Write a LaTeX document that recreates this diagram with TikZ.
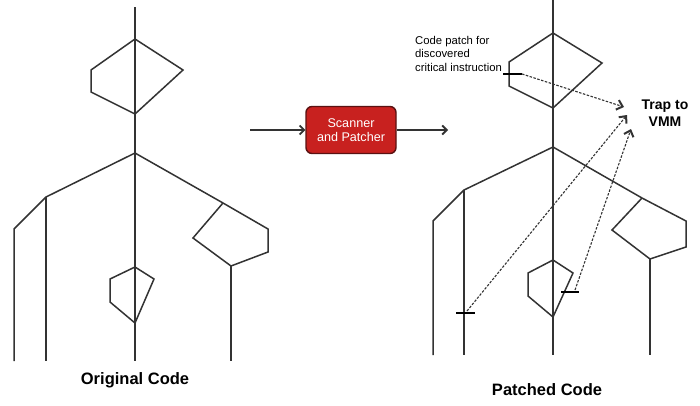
\documentclass[tikz,border=0pt]{standalone}
\usepackage{fontspec}
\setmainfont{Liberation Sans}
\usetikzlibrary{arrows.meta}
\definecolor{ln}{HTML}{333333}
\definecolor{boxred}{HTML}{C8211F}
\definecolor{boxedge}{HTML}{5A1212}
\begin{document}
\begin{tikzpicture}[x=1pt,y=-1pt,
  flow/.style={draw=ln,line width=1.5pt,line join=miter},
  tick/.style={draw=black,line width=1.7pt},
  link/.style={draw=ln,line width=1.1pt,dash pattern=on 2.5pt off 1.5pt,-{Straight Barb[length=5.5pt,width=10pt,line width=2pt,sep=0pt]}},
  bigarrow/.style={draw=ln,line width=1.4pt,-{Straight Barb[length=4.5pt,width=9pt,line width=1.8pt]}},
  title/.style={font=\bfseries\fontsize{16.5}{18}\selectfont,text=black,inner sep=0pt},
  note/.style={font=\fontsize{11.3}{13.5}\selectfont,text=black,align=left,inner sep=0pt},
  proc/.style={draw=boxedge,line width=1.4pt,fill=boxred,rounded corners=6pt,text=white,align=center,font=\fontsize{12.6}{14}\selectfont,minimum width=90pt,minimum height=47pt,inner sep=0pt}]
\useasboundingbox (0,0) rectangle (700,405);
\fill[white] (0,0) rectangle (700,405);

% ---------- Original code ----------
\draw[flow] (135,7) -- (135,361);
\draw[flow] (135,39) -- (183,70) -- (135,114) -- (91,92) -- (91,70) -- cycle;
\draw[flow] (14,361) -- (14,229) -- (46,197) -- (135,153) -- (223,203) -- (268,229) -- (268,252) -- (231,266) -- (193,238) -- (223,203);
\draw[flow] (46,197) -- (46,361);
\draw[flow] (231,266) -- (231,361);
\draw[flow] (135,267) -- (154,279) -- (135,323) -- (110,302) -- (110,279) -- cycle;
\node[title] (orig) at (135,380) {Original Code};

% ---------- Scanner ----------
\coordinate (inL) at (250,130);
\node[proc] (scan) at (351,130) {Scanner\\and Patcher};
\coordinate (outR) at (448,130);
\draw[bigarrow] (inL) -- (scan.west);
\draw[bigarrow] (scan.east) -- (outR);

% ---------- Patched code ----------
\draw[flow] (553,0) -- (553,355);
\draw[flow] (553,33) -- (602,63) -- (553,108) -- (509,86) -- (509,62) -- cycle;
\draw[flow] (433,355) -- (433,221) -- (464,190) -- (553,147) -- (642,198) -- (686,221) -- (686,247) -- (650,259) -- (612,230) -- (642,198);
\draw[flow] (464,190) -- (464,355);
\draw[flow] (650,259) -- (650,355);
\draw[flow] (553,260) -- (573,273) -- (553,317) -- (528,296) -- (528,273) -- cycle;
\node[title] (patched) at (547,390) {Patched Code};

% ticks
\draw[tick] (503,74) -- (522,74) coordinate (t1);
\draw[tick] (456,313) -- (475,313);
\coordinate (t2) at (467,311);
\draw[tick] (561,292) -- (579,292);
\coordinate (t3) at (575,290);

% labels
\node[note,anchor=north west] (cp) at (415,36) {Code patch for\\discovered\\critical instruction};
\node[font=\bfseries\fontsize{14}{17}\selectfont,align=center,inner sep=0pt] (trap) at (665,113) {Trap to\\VMM};
\coordinate (h1) at (624,107);
\coordinate (h2) at (627,115);
\coordinate (h3) at (631,129);
\draw[link] (t1) -- (h1);
\draw[link] (t2) -- (h2);
\draw[link] (t3) -- (h3);
\end{tikzpicture}
\end{document}
